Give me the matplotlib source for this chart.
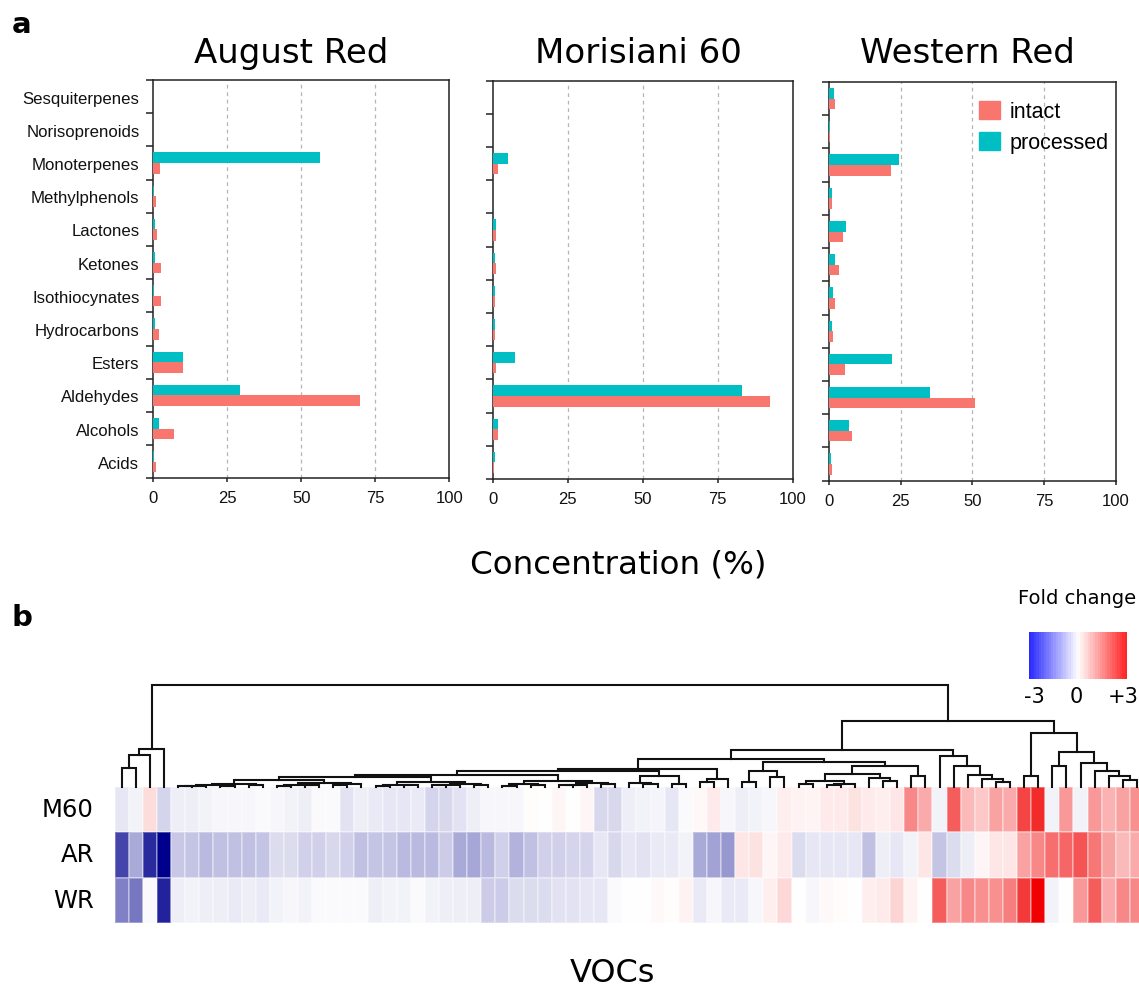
import numpy as np
import matplotlib
matplotlib.use("Agg")
import matplotlib.pyplot as plt
from matplotlib.colors import LinearSegmentedColormap, Normalize, ListedColormap
from matplotlib.patches import Patch

# ---------------- data: panel a ----------------
categories = ["Acids", "Alcohols", "Aldehydes", "Esters", "Hydrocarbons",
              "Isothiocynates", "Ketones", "Lactones", "Methylphenols",
              "Monoterpenes", "Norisoprenoids", "Sesquiterpenes"]
ar_intact = [0.8, 7.0, 69.8, 9.9, 1.8, 2.5, 2.7, 1.1, 0.8, 2.4, 0, 0]
ar_processed = [0.4, 1.8, 29.3, 9.9, 0.5, 0.3, 0.5, 0.5, 0.2, 56.3, 0, 0]
m60_intact = [0.4, 1.7, 92.3, 0.9, 0.6, 0.7, 0.9, 1.1, 0.15, 1.7, 0, 0]
m60_processed = [0.6, 1.7, 83.2, 7.4, 0.7, 0.6, 0.6, 0.9, 0.15, 4.9, 0, 0]
wr_intact = [1.0, 7.9, 50.8, 5.7, 1.4, 2.0, 3.6, 4.8, 1.0, 21.5, 0.3, 2.1]
wr_processed = [0.8, 7.1, 35.2, 21.8, 0.9, 1.4, 2.0, 5.9, 0.9, 24.5, 0.4, 1.7]
panel_titles = ["August Red", "Morisiani 60", "Western Red"]
x_ticks = [0, 25, 50, 75, 100]
legend_labels = ["intact", "processed"]

# ---------------- data: panel b (fold change, leaf order) ----------------
row_labels = ["M60", "AR", "WR"]
fc_m60 = [-0.3, -0.15, 0.4, -0.5, -0.2, -0.2, -0.15, -0.1, -0.1, -0.1,
          -0.05, -0.1, -0.15, -0.2, -0.05, -0.05, -0.35, -0.2, -0.25, -0.3,
          -0.3, -0.25, -0.5, -0.45, -0.35, -0.2, -0.1, -0.1, -0.1, 0.03,
          0.0, 0.1, 0.0, 0.1, -0.45, -0.45, -0.2, -0.15, -0.12, -0.3,
          -0.05, 0.08, 0.25, -0.1, -0.2, -0.15, -0.1, 0.2, 0.15, 0.12,
          0.25, 0.25, 0.35, 0.25, 0.2, 0.3, 1.4, 1.0, -0.15, 1.9,
          0.8, 0.65, 1.1, 1.0, 2.2, 2.5, -0.15, 1.2, -0.15, 1.2,
          0.9, 1.1, 1.3]
fc_ar = [-2.2, -1.0, -2.5, -3.0, -0.65, -0.7, -0.8, -0.75, -0.75, -0.75,
         -0.7, -0.4, -0.4, -0.55, -0.55, -0.45, -0.55, -0.75, -0.7, -0.7,
         -0.8, -0.8, -0.8, -0.6, -1.0, -1.05, -0.8, -0.55, -0.9, -0.75,
         -0.55, -0.55, -0.5, -0.5, -0.3, -0.45, -0.3, -0.35, -0.25, -0.25,
         -0.15, -1.0, -1.1, -1.2, 0.3, 0.35, 0.1, 0.25, -0.4, -0.3,
         -0.3, -0.3, -0.3, -0.75, -0.2, -0.3, -0.15, 0.3, -0.7, -0.4,
         -0.2, 0.1, 0.3, 0.3, 1.1, 1.4, 1.7, 1.8, 2.0, 1.6,
         1.1, 0.8, 1.0]
fc_wr = [-1.5, -1.6, -0.05, -2.6, -0.2, -0.15, -0.2, -0.2, -0.25, -0.2,
         -0.25, -0.15, -0.1, -0.15, -0.05, -0.05, -0.05, -0.05, -0.2, -0.15,
         -0.15, -0.05, -0.15, -0.2, -0.2, -0.2, -0.6, -0.6, -0.4, -0.4,
         -0.4, -0.35, -0.35, -0.3, -0.3, -0.05, 0.0, 0.0, 0.08, 0.03,
         0.15, -0.25, -0.1, -0.25, -0.25, -0.1, 0.2, 0.45, 0.0, -0.1,
         0.08, 0.03, 0.0, 0.2, 0.25, 0.5, 0.15, 0.0, 1.9, 1.1,
         1.4, 1.3, 1.3, 1.5, 2.3, 3.0, -0.15, 0.0, 1.2, 1.9,
         1.0, 1.4, 1.4]
cbar_ticks = ["-3", "0", "+3"]

# dendrogram merges: [left, right, height]; leaves are column indices
left_group = [[[0, 1, 19.0], 2, 32.0], 3, 38.0]
chain_a = [[[[4, 5, 0.8], 6, 1.2], [7, 8, 1.0], 1.8], [9, 10, 1.4], 2.6]
chain_b = [[[11, 12, 1.2], [13, 14, 1.4], 2.2], [[15, 16, 1.5], 17, 2.4], 3.5]
chain_c = [[[18, 19, 1.0], [20, 21, 1.3], 2.0], [[[22, 23, 1.6], 24, 2.0], [25, 26, 1.5], 2.8], 5.0]
chain_d = [[[27, 28, 1.2], [29, 30, 1.5], 2.4], [[[31, 32, 1.3], 33, 2.0], [34, 35, 2.5], 3.5], 5.5]
chain_f = [[36, [37, 38, 2.5], 4.0], [39, 40, 3.0], 11.0]
cluster_g = [[41, 42, 5.0], 43, 7.7]
cluster_h = [[[44, 45, 4.3], [46, 47, 9.7], 16.0],
             [[[[48, 49, 2.5], [[50, 51, 1.8], 52, 2.8], 5.5], [53, [54, 55, 5.3], 9.0], 12.7],
              [56, 57, 11.0], 20.3], 24.3]
cluster_i = [58, [59, [60, [61, [62, 63, 4.3], 7.7], 12.0], 20.3], 31.0]
cluster_r = [[64, 65, 11.0],
             [[66, 67, 20.3], [68, [69, [70, [71, 72, 6.3], 10.3], 15.3], 23.7], 34.3], 53.7]
staircase = [[[[[chain_a, chain_b, 7.0], chain_c, 9.3], chain_d, 12.0], chain_f, 15.3], cluster_g, 17.7]
middle = [[[staircase, cluster_h, 27.7], cluster_i, 37.0], cluster_r, 65.3]
tree = [left_group, middle, 102.0]

# ---------------- styling ----------------
W, H = 1139, 987
SALMON = "#F8766D"
TEAL = "#00BFC4"
LIB = "Liberation Sans"
DV = "DejaVu Sans"

fig = plt.figure(figsize=(W / 100, H / 100), dpi=100)


def add_ax(l, t, r, b):
    return fig.add_axes([l / W, 1 - b / H, (r - l) / W, (b - t) / H])


def ftext(x, y, s, **kw):
    fig.text(x / W, 1 - y / H, s, **kw)


# ---------------- panel a ----------------
boxes = [(153.3, 81.0, 449.3, 479.3), (493.0, 81.7, 792.6, 480.0), (829.0, 83.0, 1115.7, 481.7)]
title_x = [291.5, 638.0, 967.5]
series = [(ar_intact, ar_processed), (m60_intact, m60_processed), (wr_intact, wr_processed)]
ypos = np.arange(len(categories))

for i, (box, (inv, prv)) in enumerate(zip(boxes, series)):
    ax = add_ax(*box)
    ax.barh(ypos + 0.16, prv, height=0.32, color=TEAL, zorder=3, label=legend_labels[1])
    ax.barh(ypos - 0.16, inv, height=0.32, color=SALMON, zorder=3, label=legend_labels[0])
    ax.set_xlim(0, 100)
    ax.set_ylim(-0.5, len(categories) - 0.5)
    ax.set_xticks(x_ticks)
    ax.set_xticklabels([str(t) for t in x_ticks], fontfamily=LIB, fontsize=12, color="#111111")
    ax.set_yticks(ypos)
    ax.set_yticks(np.arange(-0.5, len(categories), 1.0), minor=True)
    if i == 0:
        ax.set_yticklabels(categories, fontfamily=LIB, fontsize=12.1, color="#111111")
    else:
        ax.set_yticklabels([])
    ax.tick_params(axis="y", which="major", length=0, pad=10)
    ax.tick_params(axis="y", which="minor", length=5, width=1.1, color="#222222")
    ax.tick_params(axis="x", which="major", length=3, width=1.1, pad=5.5, color="#222222")
    for xv in x_ticks[1:-1]:
        ax.axvline(xv, color="#b5b5b5", lw=0.9, ls=(0, (3, 3)), zorder=1)
    for s in ax.spines.values():
        s.set_linewidth(1.1)
        s.set_color("#222222")
    ftext(title_x[i], 63, panel_titles[i], ha="center", va="baseline", fontsize=24.5, fontfamily=DV)
    if i == 2:
        handles = [Patch(color=SALMON, label=legend_labels[0]), Patch(color=TEAL, label=legend_labels[1])]
        ax.legend(handles=handles, loc="upper left", bbox_to_anchor=(979 / W, 1 - 102 / H),
                  bbox_transform=fig.transFigure, frameon=False,
                  prop={"family": LIB, "size": 15.5}, handlelength=0.98, handleheight=0.88,
                  handletextpad=0.45, labelspacing=0.45, borderpad=0, borderaxespad=0)

ftext(12, 33, "a", fontsize=21, fontweight="bold", fontfamily=DV, va="baseline")
ftext(618, 573, "Concentration (%)", ha="center", va="baseline", fontsize=23.4, fontfamily=DV)

# ---------------- panel b ----------------
ncol = len(fc_m60)
HM_L, HM_R = 114.7, 114.7 + 14.1 * ncol
HM_T, HM_B = 787.7, 924.3

hax = add_ax(HM_L, HM_T, HM_R, HM_B)
data = np.array([fc_m60, fc_ar, fc_wr])
heat_cmap = LinearSegmentedColormap.from_list(
    "fc", [(0.0, (0.0, 0.0, 0.55)), (0.5, (1, 1, 1)), (1.0, (0.94, 0.0, 0.0))])
hax.pcolormesh(np.arange(ncol + 1), np.arange(4), data, cmap=heat_cmap,
               norm=Normalize(-3, 3), edgecolors=(1, 1, 1, 0.3), linewidth=0.3)
hax.set_xlim(0, ncol)
hax.set_ylim(3, 0)
hax.axis("off")

row_y = [810.2, 855.5, 901.3]
for lab, yy in zip(row_labels, row_y):
    ftext(94, yy, lab, ha="right", va="center", fontsize=17.5, fontfamily=DV)

# dendrogram
dax = add_ax(HM_L, 680.0, HM_R, HM_T)
dax.set_xlim(0, ncol)
dax.set_ylim(0, HM_T - 680.0)
dax.axis("off")


def draw(node):
    if isinstance(node, int):
        return node + 0.5, 0.0
    left, right, h = node
    xl, hl = draw(left)
    xr, hr = draw(right)
    dax.plot([xl, xl, xr, xr], [hl, h, h, hr], color="#111111", lw=1.5,
             solid_joinstyle="miter", clip_on=False)
    return (xl + xr) / 2.0, h


draw(tree)

ftext(12, 626, "b", fontsize=21, fontweight="bold", fontfamily=DV, va="baseline")
ftext(612, 982, "VOCs", ha="center", va="baseline", fontsize=23, fontfamily=DV)

# colour key
cax = add_ax(1029, 633, 1127, 680)
key_cmap = LinearSegmentedColormap.from_list(
    "key", [(0.0, (0.17, 0.17, 1.0)), (0.5, (1, 1, 1)), (1.0, (1.0, 0.15, 0.15))])
key_list = ListedColormap(key_cmap(np.linspace(0, 1, 40)))
cax.imshow(np.linspace(-3, 3, 40)[None, :], cmap=key_list, aspect="auto",
           norm=Normalize(-3, 3), interpolation="nearest")
cax.axis("off")
ftext(1077, 604, "Fold change", ha="center", va="baseline", fontsize=14, fontfamily=DV)
for lab, xx in zip(cbar_ticks, [1034, 1076, 1123]):
    ftext(xx, 703, lab, ha="center", va="baseline", fontsize=15, fontfamily=DV)

fig.savefig("out.png", dpi=100)
